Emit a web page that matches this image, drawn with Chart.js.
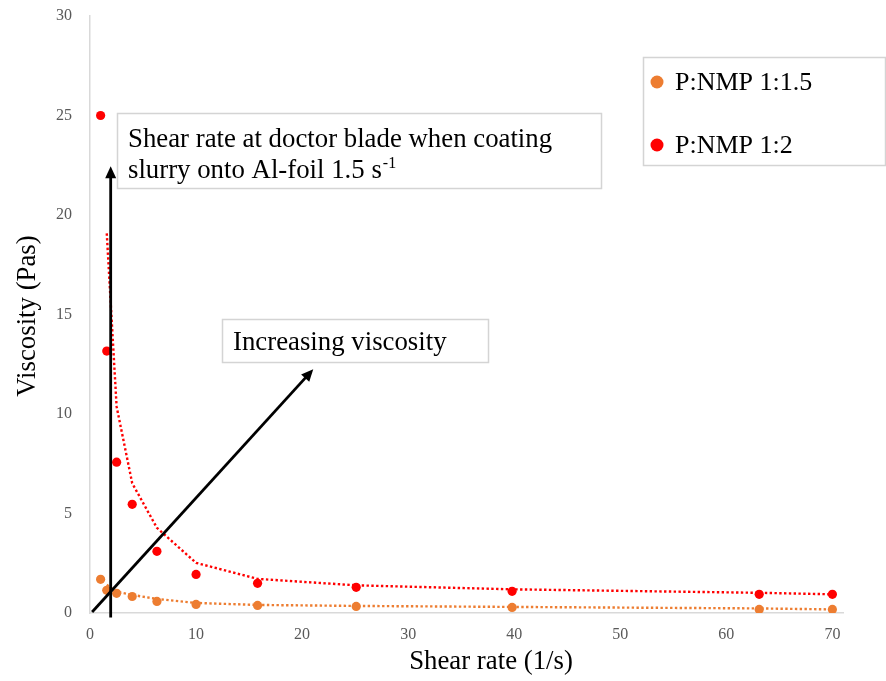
<!DOCTYPE html>
<html>
<head>
<meta charset="utf-8">
<title>Viscosity vs shear rate</title>
<script src="https://cdn.jsdelivr.net/npm/chart.js@4/dist/chart.umd.min.js"></script>
<style>
  html, body { margin: 0; padding: 0; background: #ffffff; }
  #wrap { width: 886px; height: 681px; position: relative; }
</style>
</head>
<body>
<div id="wrap"><canvas id="chart" width="886" height="681"></canvas></div>
<script>
// Shear rates (1/s) at which both slurries were measured
const shearRate = [1.0, 1.58, 2.51, 3.98, 6.31, 10.0, 15.8, 25.1, 39.8, 63.1, 70.0];
// Viscosity (Pas) of each slurry
const viscosityP15 = [1.69, 1.14, 0.99, 0.83, 0.58, 0.43, 0.38, 0.33, 0.28, 0.18, 0.18];
const viscosityP2 = [25.0, 13.16, 7.58, 5.46, 3.10, 1.94, 1.49, 1.29, 1.09, 0.94, 0.94];
const seriesNames = ['P:NMP 1:1.5', 'P:NMP 1:2'];
const seriesColors = ['#ED7D31', '#FF0000'];
// Axis ticks
const xTicks = [0, 10, 20, 30, 40, 50, 60, 70];
const yTicks = [0, 5, 10, 15, 20, 25, 30];

const SERIF = '"Liberation Serif", "Times New Roman", serif';

// Two-period moving average trendline
function movingAverage(xs, ys) {
  const out = [];
  for (let i = 1; i < xs.length; i++) {
    out.push({ x: xs[i], y: (ys[i] + ys[i - 1]) / 2 });
  }
  return out;
}
function toPoints(xs, ys) { return xs.map((x, i) => ({ x: x, y: ys[i] })); }

const seriesValues = [viscosityP15, viscosityP2];

const datasets = [];
seriesValues.forEach((vals, i) => {
  datasets.push({
    label: seriesNames[i],
    data: toPoints(shearRate, vals),
    backgroundColor: seriesColors[i],
    borderColor: seriesColors[i],
    borderWidth: 0,
    pointRadius: 4.6,
    pointHoverRadius: 4.6,
    showLine: false,
    order: 1
  });
});
seriesValues.forEach((vals, i) => {
  datasets.push({
    label: seriesNames[i] + ' trend',
    data: movingAverage(shearRate, vals),
    borderColor: seriesColors[i],
    backgroundColor: seriesColors[i],
    borderWidth: 2.4,
    borderDash: [2.4, 2.4],
    pointRadius: 0,
    showLine: true,
    fill: false,
    tension: 0,
    order: 2
  });
});

// Annotation arrows, in data units
const bladeArrow = { x: 1.95, yFrom: -0.22, yTo: 22.45 };
const trendArrow = { x0: 0.2, y0: 0.05, x1: 21.05, y1: 12.25 };

function arrow(ctx, x0, y0, x1, y1) {
  const ang = Math.atan2(y1 - y0, x1 - x0);
  const head = 12, half = 5.5;
  ctx.save();
  ctx.strokeStyle = '#000';
  ctx.fillStyle = '#000';
  ctx.lineWidth = 2.8;
  ctx.beginPath();
  ctx.moveTo(x0, y0);
  ctx.lineTo(x1 - Math.cos(ang) * (head - 2), y1 - Math.sin(ang) * (head - 2));
  ctx.stroke();
  ctx.beginPath();
  ctx.moveTo(x1, y1);
  ctx.lineTo(x1 - Math.cos(ang) * head - Math.sin(ang) * half, y1 - Math.sin(ang) * head + Math.cos(ang) * half);
  ctx.lineTo(x1 - Math.cos(ang) * head + Math.sin(ang) * half, y1 - Math.sin(ang) * head - Math.cos(ang) * half);
  ctx.closePath();
  ctx.fill();
  ctx.restore();
}

function box(ctx, x, y, w, h) {
  ctx.save();
  ctx.fillStyle = '#ffffff';
  ctx.fillRect(x, y, w, h);
  ctx.strokeStyle = '#d4d4d4';
  ctx.lineWidth = 1.5;
  ctx.strokeRect(x + 0.5, y + 0.5, w, h);
  ctx.restore();
}

const decorations = {
  id: 'decorations',
  afterDatasetsDraw(chart) {
    const ctx = chart.ctx;
    const xs = chart.scales.x, ys = chart.scales.y;

    // arrows
    const bx = xs.getPixelForValue(bladeArrow.x);
    arrow(ctx, bx, ys.getPixelForValue(bladeArrow.yFrom), bx, ys.getPixelForValue(bladeArrow.yTo));
    arrow(ctx,
      xs.getPixelForValue(trendArrow.x0), ys.getPixelForValue(trendArrow.y0),
      xs.getPixelForValue(trendArrow.x1), ys.getPixelForValue(trendArrow.y1));

    ctx.save();
    ctx.fillStyle = '#000';
    ctx.textBaseline = 'alphabetic';
    ctx.textAlign = 'left';

    // doctor blade note
    box(ctx, 117, 113, 484, 75);
    ctx.font = '26.8px ' + SERIF;
    ctx.fillText('Shear rate at doctor blade when coating', 128, 147);
    const line2 = 'slurry onto Al-foil 1.5 s';
    ctx.fillText(line2, 128, 178);
    const w2 = ctx.measureText(line2).width;
    ctx.font = '16px ' + SERIF;
    ctx.fillText('-1', 128 + w2 + 1, 168);

    // viscosity trend note
    box(ctx, 222, 319, 266, 43);
    ctx.font = '26.8px ' + SERIF;
    ctx.fillText('Increasing viscosity', 233, 350);

    // legend
    box(ctx, 643, 57, 242, 108);
    const legendY = [82, 145];
    seriesNames.forEach((name, i) => {
      ctx.fillStyle = seriesColors[i];
      ctx.beginPath();
      ctx.arc(657, legendY[i], 6.5, 0, Math.PI * 2);
      ctx.fill();
      ctx.fillStyle = '#000';
      ctx.font = '26px ' + SERIF;
      ctx.textBaseline = 'middle';
      ctx.fillText(name, 675, legendY[i] + 1);
    });

    // axis titles
    ctx.textAlign = 'center';
    ctx.textBaseline = 'middle';
    ctx.font = '26.8px ' + SERIF;
    ctx.fillText('Shear rate (1/s)', 491, 662);
    ctx.translate(28, 316);
    ctx.rotate(-Math.PI / 2);
    ctx.fillText('Viscosity (Pas)', 0, 0);
    ctx.restore();
  }
};

new Chart(document.getElementById('chart'), {
  type: 'scatter',
  data: { datasets: datasets },
  options: {
    responsive: false,
    devicePixelRatio: 1,
    animation: false,
    layout: { padding: { top: 16, right: 43, bottom: 0, left: 0 } },
    plugins: {
      legend: { display: false },
      tooltip: { enabled: false },
      title: { display: false }
    },
    scales: {
      x: {
        type: 'linear',
        min: 0,
        max: 71,
        grid: { display: false, drawTicks: false },
        border: { display: true, color: '#d9d9d9', width: 1.5 },
        ticks: {
          stepSize: 10,
          padding: 12,
          color: '#595959',
          font: { family: SERIF, size: 16 },
          maxRotation: 0
        },
        afterBuildTicks(scale) {
          scale.ticks = xTicks.map(v => ({ value: v }));
        },
        afterFit(scale) {
          scale.height = 68;
          scale.paddingLeft = 0;
          scale.paddingRight = 0;
        }
      },
      y: {
        type: 'linear',
        min: 0,
        max: 30,
        grid: { display: false, drawTicks: false },
        border: { display: true, color: '#d9d9d9', width: 1.5 },
        ticks: {
          stepSize: 5,
          padding: 18,
          color: '#595959',
          font: { family: SERIF, size: 16 }
        },
        afterBuildTicks(scale) {
          scale.ticks = yTicks.map(v => ({ value: v }));
        },
        afterFit(scale) {
          scale.width = 90;
          scale.paddingTop = 0;
          scale.paddingBottom = 0;
        }
      }
    }
  },
  plugins: [decorations]
});
</script>
</body>
</html>
